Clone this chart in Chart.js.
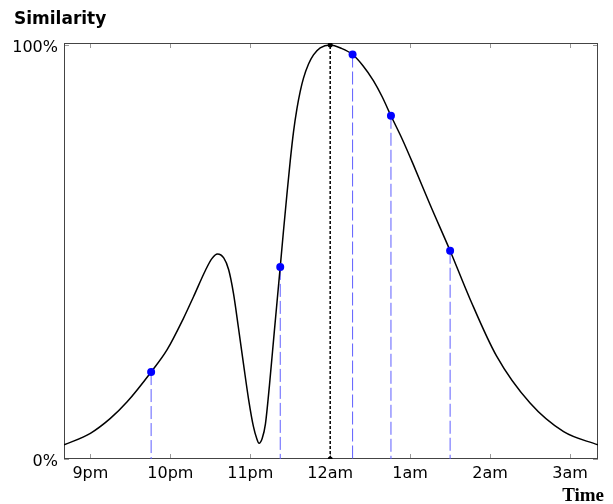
<!DOCTYPE html>
<html>
<head>
<meta charset="utf-8">
<script src="https://cdn.jsdelivr.net/npm/chart.js@4"></script>
<style>
  body { margin: 0; background: #fff; }
  #wrap { position: relative; width: 613px; height: 504px; }
  .axis-title { position: absolute; color: #000; white-space: nowrap; }
  #ytitle { left: 14px; top: 10px; font: bold 17px/17px "DejaVu Sans", sans-serif; }
  #xtitle { right: 9px; top: 485px; font: bold 19px/19px "Liberation Serif", serif; }
</style>
</head>
<body>
<div id="wrap">
  <canvas id="chart" width="613" height="504"></canvas>
  <div class="axis-title" id="ytitle">Similarity</div>
  <div class="axis-title" id="xtitle">Time</div>
</div>
<script>
// hours relative to midnight
const curveHours = [
  -3.33, -3.0, -2.75, -2.54, -2.24, -2.04, -1.84, -1.71, -1.56, -1.48,
  -1.41, -1.33, -1.27, -1.21, -1.15, -1.08, -1.02, -0.96, -0.92, -0.89,
  -0.85, -0.81, -0.76, -0.70, -0.625, -0.584, -0.541, -0.50, -0.459, -0.416,
  -0.375, -0.334, -0.271, -0.209, -0.125, 0, 0.14, 0.28, 0.41, 0.54,
  0.65, 0.76, 0.90, 1.04, 1.25, 1.5, 1.75, 2.08, 2.5, 2.92,
  3.35,
];
const curveSimilarity = [
  3.4, 6.2, 9.8, 13.8, 21.0, 26.4, 33.8, 39.2, 45.6, 48.4,
  49.5, 48.5, 45.7, 40.0, 32.0, 22.3, 14.3, 7.8, 5.0, 3.8,
  5.0, 8.5, 17.8, 30.6, 46.4, 55.2, 64.0, 72.0, 79.0, 84.6,
  88.8, 92.0, 95.4, 97.6, 99.3, 100, 99.2, 97.7, 95.0, 91.4,
  87.5, 82.9, 77.3, 71.1, 61.4, 50.3, 38.6, 24.9, 13.5, 6.6,
  3.4,
];

// sampled points (blue)
const sampleHours = [-2.24, -0.625, 0.28, 0.76, 1.5];
const sampleSimilarity = [21.0, 46.4, 97.7, 82.9, 50.3];

// the reference moment (12am)
const refHour = 0;
const refSimilarity = 100;

const tickHours = [-3, -2, -1, 0, 1, 2, 3];
const tickLabels = ["9pm", "10pm", "11pm", "12am", "1am", "2am", "3am"];
const yTicks = [0, 100];

const toPoints = (xs, ys) => xs.map((x, i) => ({ x, y: ys[i] }));

const dropLines = [];
sampleHours.forEach((h, i) => {
  dropLines.push({ x: h, y: sampleSimilarity[i] });
  dropLines.push({ x: h, y: 0 });
  dropLines.push({ x: h, y: null });
});

// box round the plot plus small inward ticks on all four sides
const framePlugin = {
  id: "frame",
  beforeDatasetsDraw(chart) {
    const { ctx, chartArea: a, scales } = chart;
    const len = 5;
    ctx.save();
    ctx.strokeStyle = "#999";
    ctx.lineWidth = 1;
    ctx.beginPath();
    tickHours.forEach((h) => {
      const px = Math.round(scales.x.getPixelForValue(h)) + 0.5;
      ctx.moveTo(px, a.bottom);
      ctx.lineTo(px, a.bottom - len);
      ctx.moveTo(px, a.top);
      ctx.lineTo(px, a.top + len);
    });
    yTicks.forEach((v) => {
      const py = Math.round(scales.y.getPixelForValue(v)) + 0.5;
      ctx.moveTo(a.left, py);
      ctx.lineTo(a.left + len, py);
      ctx.moveTo(a.right, py);
      ctx.lineTo(a.right - len, py);
    });
    ctx.stroke();
    ctx.strokeStyle = "#444";
    ctx.strokeRect(a.left + 0.5, a.top + 0.5, a.right - a.left - 1, a.bottom - a.top - 1);
    ctx.restore();
  },
};

new Chart(document.getElementById("chart").getContext("2d"), {
  type: "line",
  data: {
    datasets: [
      {
        data: toPoints(sampleHours, sampleSimilarity),
        showLine: false,
        pointRadius: 4,
        pointBackgroundColor: "#0000ff",
        pointBorderColor: "#0000ff",
        pointBorderWidth: 0,
        order: 0,
      },
      {
        data: toPoints(curveHours, curveSimilarity),
        borderColor: "#000",
        borderWidth: 1.5,
        pointRadius: 0,
        cubicInterpolationMode: "monotone",
        order: 1,
      },
      {
        data: [{ x: refHour, y: 0 }, { x: refHour, y: refSimilarity }],
        borderColor: "#000",
        borderWidth: 1.5,
        borderDash: [3, 2],
        pointRadius: 2.5,
        pointBackgroundColor: "#000",
        pointBorderWidth: 0,
        order: 2,
      },
      {
        data: dropLines,
        borderColor: "#5f5fff",
        borderWidth: 1,
        borderDash: [13, 4],
        pointRadius: 0,
        spanGaps: false,
        order: 3,
      },
    ],
  },
  options: {
    responsive: false,
    animation: false,
    layout: { padding: { top: 43, right: 15, left: 0, bottom: 0 } },
    plugins: { legend: { display: false }, tooltip: { enabled: false } },
    scales: {
      x: {
        type: "linear",
        min: -3.33,
        max: 3.35,
        grid: { display: false, drawTicks: false },
        border: { display: false },
        afterBuildTicks: (scale) => {
          scale.ticks = tickHours.map((value) => ({ value }));
        },
        afterFit: (scale) => {
          scale.height = 45;
        },
        ticks: {
          color: "#000",
          padding: 5,
          font: { family: "DejaVu Sans", size: 16 },
          callback: (value) => tickLabels[tickHours.indexOf(value)],
        },
      },
      y: {
        min: 0,
        max: 100.48,
        grid: { display: false, drawTicks: false },
        border: { display: false },
        afterBuildTicks: (scale) => {
          scale.ticks = yTicks.map((value) => ({ value }));
        },
        afterFit: (scale) => {
          scale.width = 64;
        },
        ticks: {
          color: "#000",
          padding: 6,
          labelOffset: 3,
          font: { family: "DejaVu Sans", size: 16 },
          callback: (value) => value + "%",
        },
      },
    },
  },
  plugins: [framePlugin],
});
</script>
</body>
</html>
